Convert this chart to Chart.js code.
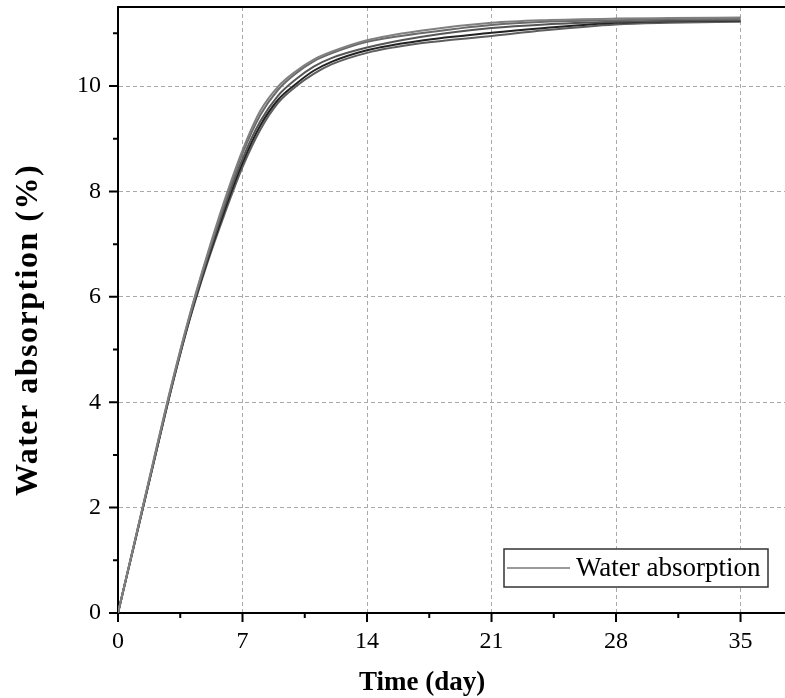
<!DOCTYPE html>
<html>
<head>
<meta charset="utf-8">
<script src="https://cdn.jsdelivr.net/npm/chart.js@4.4.1/dist/chart.umd.min.js"></script>
<style>
  html, body { margin: 0; padding: 0; background: #fff; }
  #wrap { width: 785px; height: 698px; }
</style>
</head>
<body>
<div id="wrap"><canvas id="absorptionChart" width="785" height="698"></canvas></div>
<script>
// sampling days and the five measured curves (%)
const days = [0, 1, 2, 3, 4, 5, 6, 7, 8, 9, 10, 11, 12, 14, 17, 21, 24, 28, 31, 35];
const sample1 = [0, 1.45, 2.90, 4.32, 5.62, 6.78, 7.84, 8.78, 9.53, 9.99, 10.28, 10.50, 10.65, 10.87, 11.05, 11.20, 11.25, 11.28, 11.29, 11.30];
const sample2 = [0, 1.44, 2.88, 4.30, 5.60, 6.75, 7.79, 8.72, 9.45, 9.93, 10.24, 10.47, 10.62, 10.84, 11.00, 11.16, 11.22, 11.25, 11.27, 11.28];
const sample3 = [0, 1.43, 2.86, 4.28, 5.57, 6.70, 7.72, 8.62, 9.33, 9.82, 10.13, 10.37, 10.53, 10.73, 10.93, 11.10, 11.17, 11.22, 11.24, 11.25];
const sample4 = [0, 1.43, 2.85, 4.27, 5.55, 6.66, 7.65, 8.54, 9.25, 9.74, 10.04, 10.29, 10.46, 10.68, 10.86, 11.01, 11.10, 11.20, 11.23, 11.24];
const sample5 = [0, 1.42, 2.84, 4.25, 5.53, 6.62, 7.58, 8.46, 9.17, 9.68, 9.99, 10.23, 10.41, 10.63, 10.81, 10.95, 11.06, 11.17, 11.20, 11.22];

const xTicks = [0, 7, 14, 21, 28, 35];
const xMinor = [3.5, 10.5, 17.5, 24.5, 31.5];
const yTicks = [0, 2, 4, 6, 8, 10];
const yMinor = [1, 3, 5, 7, 9, 11];

const legendLabel = 'Water absorption';
const serif = '"Liberation Serif", "Times New Roman", serif';

const toPoints = vals => vals.map((v, i) => ({ x: days[i], y: v }));

function line(vals, color) {
    return {
        label: legendLabel,
        data: toPoints(vals),
        borderColor: color,
        borderWidth: 2,
        pointRadius: 0,
        fill: false,
        cubicInterpolationMode: 'monotone'
    };
}

// tick marks, top frame, axis titles and the boxed legend
const frameExtras = {
    id: 'frameExtras',
    afterDraw(chart) {
        const { ctx, chartArea: a, scales: { x, y } } = chart;
        ctx.save();
        ctx.strokeStyle = '#000';
        ctx.lineWidth = 2;
        ctx.beginPath();
        ctx.moveTo(a.left - 1, a.top);
        ctx.lineTo(a.right, a.top);
        xTicks.forEach(v => { const p = x.getPixelForValue(v); ctx.moveTo(p, a.bottom); ctx.lineTo(p, a.bottom + 9); });
        xMinor.forEach(v => { const p = x.getPixelForValue(v); ctx.moveTo(p, a.bottom); ctx.lineTo(p, a.bottom + 5); });
        yTicks.forEach(v => { const p = y.getPixelForValue(v); ctx.moveTo(a.left, p); ctx.lineTo(a.left - 9, p); });
        yMinor.forEach(v => { const p = y.getPixelForValue(v); ctx.moveTo(a.left, p); ctx.lineTo(a.left - 5, p); });
        ctx.stroke();

        // axis titles
        ctx.fillStyle = '#000';
        ctx.font = 'bold 27px ' + serif;
        ctx.textAlign = 'center';
        ctx.textBaseline = 'middle';
        ctx.fillText('Time (day)', x.getPixelForValue(17.1), 683);
        ctx.save();
        ctx.translate(29, 330);
        ctx.rotate(-Math.PI / 2);
        ctx.font = 'bold 32px ' + serif;
        ctx.letterSpacing = '1.5px';
        ctx.fillText('Water absorption (%)', 0, 0);
        ctx.restore();

        // legend box
        const bw = 264, bh = 38;
        const bx = a.right - 17 - bw, by = a.bottom - 26 - bh;
        ctx.fillStyle = '#fff';
        ctx.fillRect(bx, by, bw, bh);
        ctx.strokeStyle = '#333';
        ctx.lineWidth = 1.5;
        ctx.strokeRect(bx, by, bw, bh);
        ctx.strokeStyle = '#777';
        ctx.lineWidth = 1.5;
        ctx.beginPath();
        ctx.moveTo(bx + 3, by + bh / 2);
        ctx.lineTo(bx + 66, by + bh / 2);
        ctx.stroke();
        ctx.fillStyle = '#000';
        ctx.font = '27px ' + serif;
        ctx.textAlign = 'left';
        ctx.fillText(legendLabel, bx + 72, by + bh / 2 + 1);
        ctx.restore();
    }
};

const gridStyle = {
    color: '#aaaaaa',
    lineWidth: 1,
    drawTicks: false
};

const ctx1 = document.getElementById('absorptionChart').getContext('2d');
const absorptionChart = new Chart(ctx1, {
    type: 'line',
    data: {
        datasets: [
            line(sample1, '#808080'),
            line(sample2, '#6a6a6a'),
            line(sample3, '#555555'),
            line(sample4, '#222222'),
            line(sample5, '#5e5e5e')
        ]
    },
    options: {
        responsive: false,
        animation: false,
        layout: { padding: { top: 7, right: 0, left: 0, bottom: 0 } },
        plugins: {
            legend: { display: false },
            tooltip: { enabled: false }
        },
        scales: {
            x: {
                type: 'linear',
                min: 0,
                max: 37.5,
                afterBuildTicks: s => { s.ticks = xTicks.map(v => ({ value: v })); },
                afterFit: s => { s.height = 85; s.paddingLeft = 0; s.paddingRight = 0; },
                grid: gridStyle,
                border: { color: '#000', width: 2, dash: [4, 3] },
                ticks: {
                    color: '#000',
                    padding: 14,
                    maxRotation: 0,
                    font: { family: serif, size: 24 }
                }
            },
            y: {
                min: 0,
                max: 11.5,
                afterBuildTicks: s => { s.ticks = yTicks.map(v => ({ value: v })); },
                afterFit: s => { s.width = 118; s.paddingTop = 0; s.paddingBottom = 0; },
                grid: gridStyle,
                border: { color: '#000', width: 2, dash: [4, 3] },
                ticks: {
                    color: '#000',
                    padding: 17,
                    font: { family: serif, size: 24 }
                }
            }
        }
    },
    plugins: [frameExtras]
});
</script>
</body>
</html>
